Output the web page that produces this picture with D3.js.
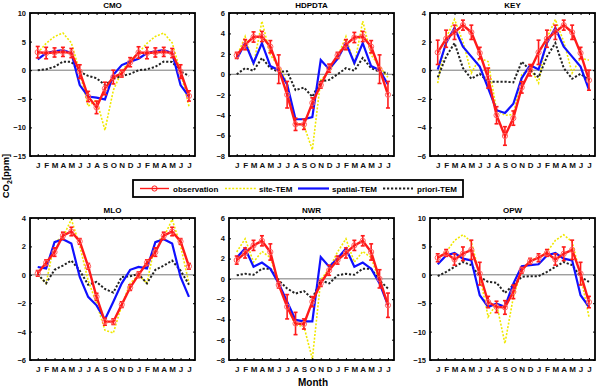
<!DOCTYPE html>
<html><head><meta charset="utf-8">
<script src="https://cdnjs.cloudflare.com/ajax/libs/d3/7.8.5/d3.min.js"></script>
<style>
body{margin:0;background:#fff;}
svg text{font-family:"Liberation Sans",Arial,sans-serif;font-weight:bold;}
</style></head>
<body><svg id="c" width="600" height="388"></svg>
<script>
const months = ["J","F","M","A","M","J","J","A","S","O","N","D","J","F","M","A","M","J","J"];
const stations = ["CMO","HDPDTA","KEY","MLO","NWR","OPW"];
const yDomains = [[-15,10],[-8,6],[-6,4],[-6,4],[-8,6],[-15,10]];
const yTicks = [[-15,-10,-5,0,5,10],[-8,-6,-4,-2,0,2,4,6],[-6,-4,-2,0,2,4],[-6,-4,-2,0,2,4],[-8,-6,-4,-2,0,2,4,6],[-15,-10,-5,0,5,10]];

const obsCMO = [3.15,3.0,3.1,3.2,3.0,-0.25,-4.6,-6.5,-3.2,-1.2,-0.6,1.4,3.1,3.0,3.1,3.2,3.0,-0.25,-4.5];
const errCMO = [1.0,1.0,0.8,0.8,0.8,1.2,0.9,1.1,1.1,1.2,0.6,0.8,1.0,1.0,0.8,0.8,0.8,1.2,0.9];
const siteCMO = [3.0,4.7,5.9,6.5,4.8,-0.3,-6.3,-5.2,-10.5,-3.5,-0.2,1.8,3.0,4.7,5.9,6.5,4.8,-0.3,-6.3];
const spatialCMO = [1.9,3.0,3.3,3.5,3.0,-2.6,-4.6,-4.8,-5.1,-0.8,0.9,1.5,2.0,3.0,3.3,3.5,3.0,-2.6,-4.6];
const prioriCMO = [0.0,0.15,0.6,1.5,1.45,-0.25,-1.0,-1.4,-2.6,-1.5,-1.0,-0.65,0.0,0.15,0.6,1.5,1.45,-0.25,-1.0];

const obsHDPDTA = [1.85,2.9,3.65,3.7,2.7,0.5,-2.0,-4.9,-4.9,-2.8,-1.05,0.6,1.85,2.9,3.6,3.7,2.7,0.5,-2.0];
const errHDPDTA = [0.3,0.5,0.5,0.5,0.6,1.4,1.3,0.6,0.5,0.5,0.3,0.4,0.3,0.5,0.5,0.5,0.6,1.4,1.3];
const siteHDPDTA = [1.7,3.7,0.9,5.2,1.9,0.75,-0.8,-4.8,-5.0,-7.4,-0.55,0.25,1.7,3.7,0.9,5.2,1.9,0.75,-0.3];
const spatialHDPDTA = [1.5,3.05,1.1,3.05,0.8,0.4,-1.0,-4.4,-4.4,-4.2,1.4,0.5,1.5,3.05,1.1,3.05,0.8,0.4,-1.0];
const prioriHDPDTA = [0.0,0.6,0.35,1.6,0.6,0.25,0.3,-1.55,-1.3,-2.2,-0.7,-0.55,0.0,0.6,0.35,1.6,0.6,0.25,0.1];

const obsKEY = [1.25,2.2,2.65,3.15,2.65,1.2,-0.55,-3.15,-4.6,-3.35,-1.2,0.0,1.25,2.2,2.65,3.15,2.65,1.2,-0.7];
const errKEY = [0.85,0.6,0.5,0.35,0.5,0.4,0.7,0.6,0.65,0.5,0.4,0.4,0.85,0.6,0.5,0.35,0.5,0.4,0.7];
const siteKEY = [-0.9,2.25,3.55,2.0,-0.2,0.85,0.6,-2.8,-3.15,-3.1,-0.3,0.15,-0.9,2.25,3.55,2.0,-0.2,0.85,0.7];
const spatialKEY = [0.05,1.9,2.95,1.65,0.95,0.25,-1.25,-2.8,-3.0,-2.35,-0.55,0.35,0.05,1.9,2.95,1.65,0.95,0.25,-1.35];
const prioriKEY = [-0.5,0.95,1.9,0.15,-0.6,-0.25,-0.8,-0.8,-0.8,-0.85,0.6,0.0,-0.5,0.95,1.9,0.15,-0.6,-0.25,-0.7];

const obsMLO = [0.1,0.85,1.6,2.75,3.05,2.35,0.6,-1.55,-3.3,-3.3,-2.1,-0.9,0.0,0.85,1.6,2.75,3.05,2.35,0.6];
const errMLO = [0.2,0.2,0.3,0.25,0.3,0.2,0.2,0.25,0.25,0.2,0.2,0.2,0.2,0.2,0.3,0.25,0.3,0.2,0.2];
const siteMLO = [0.0,-0.6,2.3,2.65,3.9,2.05,-0.4,-2.0,-3.9,-4.1,-2.15,-0.6,0.0,-0.6,2.3,2.65,3.9,2.05,-0.6];
const spatialMLO = [0.55,0.45,2.3,2.5,2.2,-0.15,-1.55,-2.15,-3.15,-1.9,-0.6,0.35,0.55,0.45,2.3,2.5,2.2,-0.15,-1.55];
const prioriMLO = [0.05,-0.6,0.35,0.65,1.0,0.3,-0.7,-0.5,-1.0,-1.25,-0.15,-0.1,0.05,-0.6,0.35,0.65,1.0,0.3,-0.7];

const obsNWR = [1.85,2.55,3.3,3.75,2.65,-0.6,-2.75,-4.4,-4.45,-2.25,-0.45,0.85,1.85,2.55,3.3,3.75,2.65,0.0,-2.6];
const errNWR = [0.4,0.5,0.5,0.5,0.8,0.3,1.2,1.1,0.5,0.5,0.3,0.5,0.4,0.5,0.5,0.5,0.8,0.9,1.2];
const siteNWR = [2.65,3.95,1.65,2.7,2.1,-0.3,-2.75,-4.55,-4.7,-7.9,-0.1,1.0,2.65,3.95,1.65,2.7,2.1,-0.3,-2.4];
const spatialNWR = [2.1,3.0,1.2,1.6,1.0,-0.45,-2.25,-4.05,-4.2,-4.2,2.15,1.2,2.0,3.0,1.2,1.6,1.0,-0.45,-2.6];
const prioriNWR = [0.35,0.5,0.4,1.0,1.0,-0.15,-0.95,-1.45,-1.2,-1.95,-0.15,-0.45,0.35,0.5,0.4,1.0,1.0,-0.15,-0.95];

const obsOPW = [3.0,3.85,2.7,3.7,4.4,0.2,-4.8,-5.65,-5.75,-3.0,0.8,2.4,3.0,3.85,2.7,3.7,4.4,0.2,-4.8];
const errOPW = [0.7,0.6,1.0,1.2,1.7,2.0,1.0,1.0,1.2,1.2,0.5,0.5,0.7,0.6,1.0,1.2,1.7,2.0,1.0];
const siteOPW = [3.0,4.0,6.05,7.05,5.8,-0.1,-7.4,-5.1,-12.1,-3.9,0.8,2.55,3.0,4.0,6.05,7.05,5.8,-0.1,-7.4];
const spatialOPW = [1.85,3.4,3.85,2.85,2.55,-3.6,-5.65,-5.1,-5.65,-1.55,1.5,1.7,1.85,3.4,3.85,2.85,2.55,-3.6,-5.65];
const prioriOPW = [-0.25,0.5,1.4,2.25,1.7,-0.35,-1.25,-1.4,-3.2,-1.8,-0.35,-0.25,-0.25,0.5,1.4,2.25,1.7,-0.35,-1.25];

const seriesNames = ["observation","site-TEM","spatial-TEM","priori-TEM"];

const panelData = [
  {obs:obsCMO,err:errCMO,site:siteCMO,spatial:spatialCMO,priori:prioriCMO},
  {obs:obsHDPDTA,err:errHDPDTA,site:siteHDPDTA,spatial:spatialHDPDTA,priori:prioriHDPDTA},
  {obs:obsKEY,err:errKEY,site:siteKEY,spatial:spatialKEY,priori:prioriKEY},
  {obs:obsMLO,err:errMLO,site:siteMLO,spatial:spatialMLO,priori:prioriMLO},
  {obs:obsNWR,err:errNWR,site:siteNWR,spatial:spatialNWR,priori:prioriNWR},
  {obs:obsOPW,err:errOPW,site:siteOPW,spatial:spatialOPW,priori:prioriOPW}
];

const RED="#ff1a1a", YEL="#f0e800", BLUE="#1010ff", BLK="#222";
const svg = d3.select("#c");
const lefts=[30,229,430], W=165;
const rows=[{top:13,bottom:156},{top:218,bottom:360}];

panelData.forEach((d,k)=>{
  const col=k%3,row=Math.floor(k/3);
  const L=lefts[col], R=L+W, T=rows[row].top, B=rows[row].bottom;
  const x=d3.scaleLinear().domain([-0.92,18.72]).range([L,R]);
  const y=d3.scaleLinear().domain(yDomains[k]).range([B,T]);
  const g=svg.append("g");
  // zero line
  g.append("line").attr("x1",L).attr("x2",R).attr("y1",y(0)).attr("y2",y(0)).attr("stroke","#777").attr("stroke-width",1);
  const line=d3.line().x((v,i)=>x(i)).y(v=>y(v));
  g.append("path").attr("d",line(d.site)).attr("fill","none").attr("stroke",YEL).attr("stroke-width",1.6).attr("stroke-dasharray","2,1.6");
  g.append("path").attr("d",line(d.priori)).attr("fill","none").attr("stroke",BLK).attr("stroke-width",2).attr("stroke-dasharray","2.2,1.8");
  g.append("path").attr("d",line(d.spatial)).attr("fill","none").attr("stroke",BLUE).attr("stroke-width",2.2);
  g.append("path").attr("d",line(d.obs)).attr("fill","none").attr("stroke",RED).attr("stroke-width",2.4);
  // error bars
  const eb=g.append("g").attr("stroke",RED).attr("stroke-width",1.6);
  d.obs.forEach((v,i)=>{
    const e=d.err[i], xi=x(i);
    eb.append("line").attr("x1",xi).attr("x2",xi).attr("y1",y(v-e)).attr("y2",y(v+e));
    eb.append("line").attr("x1",xi-2).attr("x2",xi+2).attr("y1",y(v-e)).attr("y2",y(v-e));
    eb.append("line").attr("x1",xi-2).attr("x2",xi+2).attr("y1",y(v+e)).attr("y2",y(v+e));
  });
  g.selectAll("circle.m").data(d.obs).enter().append("circle").attr("class","m")
    .attr("cx",(v,i)=>x(i)).attr("cy",v=>y(v)).attr("r",2.6)
    .attr("fill","none").attr("stroke","#ff6060").attr("stroke-width",1);
  // axes
  const ax=d3.axisBottom(x).tickValues(d3.range(19)).tickFormat(i=>months[i]).tickSize(-2).tickPadding(6);
  const gx=g.append("g").attr("transform",`translate(0,${B})`).call(ax);
  gx.select(".domain").remove();
  gx.selectAll("text").attr("font-size",8).attr("fill","#111");
  const axt=d3.axisTop(x).tickValues(d3.range(19)).tickFormat("").tickSize(-2);
  g.append("g").attr("transform",`translate(0,${T})`).call(axt).select(".domain").remove();
  const ay=d3.axisLeft(y).tickValues(yTicks[k]).tickSize(-2).tickPadding(4);
  const gy=g.append("g").attr("transform",`translate(${L},0)`).call(ay);
  gy.select(".domain").remove();
  gy.selectAll("text").attr("font-size",7.5).attr("fill","#111");
  const ayr=d3.axisRight(y).tickValues(yTicks[k]).tickFormat("").tickSize(-2);
  g.append("g").attr("transform",`translate(${R},0)`).call(ayr).select(".domain").remove();
  g.append("rect").attr("x",L).attr("y",T).attr("width",W).attr("height",B-T).attr("fill","none").attr("stroke","#000").attr("stroke-width",1.8);
  g.append("text").attr("x",(L+R)/2).attr("y",T-5).attr("text-anchor","middle").attr("font-size",8).text(stations[k]);
});

// legend
const lg=svg.append("g");
lg.append("rect").attr("x",133).attr("y",180).attr("width",330).attr("height",17).attr("fill","#fff").attr("stroke","#000").attr("stroke-width",1.8);
const ly=188.5;
const items=[
  {x1:140,x2:169,tx:173,stroke:RED,w:1.4,dash:null,marker:true},
  {x1:225,x2:256,tx:259,stroke:YEL,w:1.6,dash:"2,1.6"},
  {x1:298,x2:329,tx:332,stroke:BLUE,w:2.2,dash:null},
  {x1:383,x2:413,tx:417,stroke:BLK,w:2,dash:"2.2,1.8"}
];
items.forEach((it,i)=>{
  const l=lg.append("line").attr("x1",it.x1).attr("x2",it.x2).attr("y1",ly).attr("y2",ly).attr("stroke",it.stroke).attr("stroke-width",it.w);
  if(it.dash) l.attr("stroke-dasharray",it.dash);
  if(it.marker) lg.append("circle").attr("cx",(it.x1+it.x2)/2).attr("cy",ly).attr("r",2.6).attr("fill","none").attr("stroke",RED).attr("stroke-width",1);
  lg.append("text").attr("x",it.tx).attr("y",ly+3).attr("font-size",8).text(seriesNames[i]);
});

// axis labels
const yl=svg.append("text").attr("transform","translate(9,176) rotate(-90)").attr("text-anchor","middle").attr("font-size",9.5);
yl.append("tspan").text("CO");
yl.append("tspan").attr("font-size",7).attr("dy",3).text("2");
yl.append("tspan").attr("dy",-3).text("[ppm]");
svg.append("text").attr("x",313).attr("y",386).attr("text-anchor","middle").attr("font-size",10).text("Month");
</script></body></html>
